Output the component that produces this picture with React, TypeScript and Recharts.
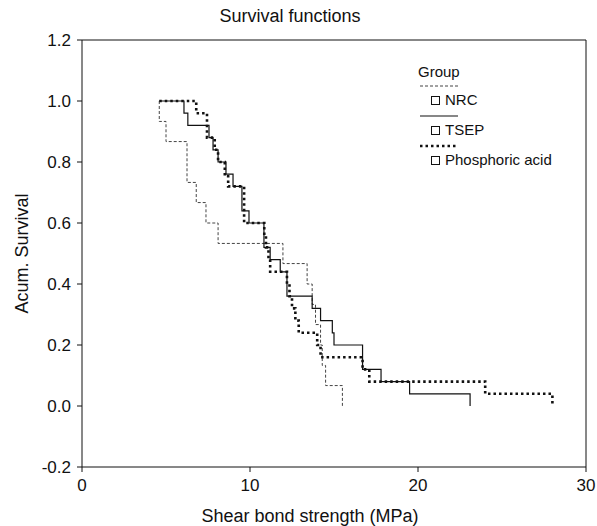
import React from 'react';
import { LineChart, Line, XAxis, YAxis, ReferenceLine } from 'recharts';

// Kaplan-Meier step points: time (MPa) and cumulative survival
const nrcTime = [4.6, 4.6, 5.0, 6.25, 6.8, 7.38, 8.1, 11.96, 13.4, 13.7, 13.9, 14.2, 14.3, 14.5, 15.5];
const nrcSurv = [1.0, 0.933, 0.867, 0.733, 0.667, 0.6, 0.533, 0.467, 0.4, 0.333, 0.267, 0.2, 0.133, 0.067, 0];

const tsepTime = [4.6, 6.07, 6.3, 7.56, 7.8, 8.1, 8.57, 8.99, 9.52, 9.94, 10.83, 11.2, 11.8, 12.2, 13.7, 14.2, 14.9, 15.0, 16.7, 17.8, 19.5, 23.1];
const tsepSurv = [1.0, 0.96, 0.92, 0.88, 0.84, 0.8, 0.76, 0.72, 0.64, 0.6, 0.52, 0.48, 0.44, 0.36, 0.32, 0.28, 0.24, 0.2, 0.12, 0.08, 0.04, 0];

const phosTime = [4.6, 6.8, 7.44, 7.9, 8.1, 8.5, 8.7, 9.65, 10.85, 10.95, 11.1, 11.2, 12.2, 12.35, 12.5, 12.7, 12.9, 14.0, 14.2, 16.7, 17.1, 24.0, 28.0];
const phosSurv = [1.0, 0.96, 0.88, 0.84, 0.8, 0.76, 0.72, 0.6, 0.56, 0.52, 0.48, 0.44, 0.4, 0.36, 0.32, 0.28, 0.24, 0.2, 0.16, 0.12, 0.08, 0.04, 0];

const xTicks = [0, 10, 20, 30];
const yTicks = [-0.2, 0, 0.2, 0.4, 0.6, 0.8, 1.0, 1.2];

const toPoints = (t: number[], s: number[]) => t.map((x, i) => ({ x, y: s[i] }));

const FONT = '"Liberation Sans", Arial, sans-serif';

const SERIES = [
  { name: 'NRC', data: toPoints(nrcTime, nrcSurv), width: 1, dash: '3 2', color: '#444' },
  { name: 'TSEP', data: toPoints(tsepTime, tsepSurv), width: 1.2, dash: undefined, color: '#111' },
  { name: 'Phosphoric acid', data: toPoints(phosTime, phosSurv), width: 2.6, dash: '2.5 3', color: '#111' },
];

const LegendBox = () => (
  <div style={{ position: 'absolute', left: 418, top: 62, fontFamily: FONT, fontSize: 15, color: '#111' }}>
    <div style={{ height: 20, lineHeight: '20px' }}>Group</div>
    {SERIES.map((s) => (
      <div key={s.name} style={{ height: 30 }}>
        <svg width={44} height={8} style={{ display: 'block' }}>
          <line x1={2} y1={4} x2={40} y2={4} stroke={s.color} strokeWidth={s.width} strokeDasharray={s.dash} />
        </svg>
        <div style={{ display: 'flex', alignItems: 'center', height: 20, marginLeft: 13 }}>
          <span style={{ display: 'inline-block', width: 7, height: 7, border: '1px solid #111', marginRight: 5 }} />
          <span style={{ lineHeight: '20px' }}>{s.name}</span>
        </div>
      </div>
    ))}
  </div>
);

export default function App() {
  return (
    <div style={{ position: 'absolute', left: 0, top: 0, width: 597, height: 526, background: '#fff' }}>
      <div style={{ position: 'absolute', left: 0, width: 580, top: 6, textAlign: 'center', fontFamily: FONT, fontSize: 18, color: '#111' }}>
        Survival functions
      </div>
      <LineChart width={597} height={526} margin={{ top: 40, right: 11, bottom: 0, left: 0 }}>
        <XAxis
          dataKey="x"
          type="number"
          domain={[0, 30]}
          ticks={xTicks}
          allowDuplicatedCategory={false}
          height={59}
          tickSize={5}
          tickMargin={7}
          stroke="#111"
          tick={{ fill: '#111', fontSize: 17, fontFamily: FONT }}
          label={{ value: 'Shear bond strength (MPa)', position: 'insideBottom', offset: 4, dx: -24, fill: '#111', fontSize: 18, fontFamily: FONT }}
        />
        <YAxis
          dataKey="y"
          type="number"
          domain={[-0.2, 1.2]}
          ticks={yTicks}
          width={82}
          tickSize={5}
          tickMargin={6}
          stroke="#111"
          tickFormatter={(v: number) => v.toFixed(1)}
          tick={{ fill: '#111', fontSize: 17, fontFamily: FONT }}
          label={{ value: 'Acum. Survival', angle: -90, position: 'insideLeft', offset: 22, fill: '#111', fontSize: 18, fontFamily: FONT, style: { textAnchor: 'middle' } }}
        />
        <ReferenceLine y={1.2} stroke="#111" />
        <ReferenceLine x={30} stroke="#111" />
        {SERIES.map((s) => (
          <Line
            key={s.name}
            data={s.data}
            dataKey="y"
            type="stepAfter"
            stroke={s.color}
            strokeWidth={s.width}
            strokeDasharray={s.dash}
            dot={false}
            activeDot={false}
            isAnimationActive={false}
          />
        ))}
      </LineChart>
      <LegendBox />
    </div>
  );
}
